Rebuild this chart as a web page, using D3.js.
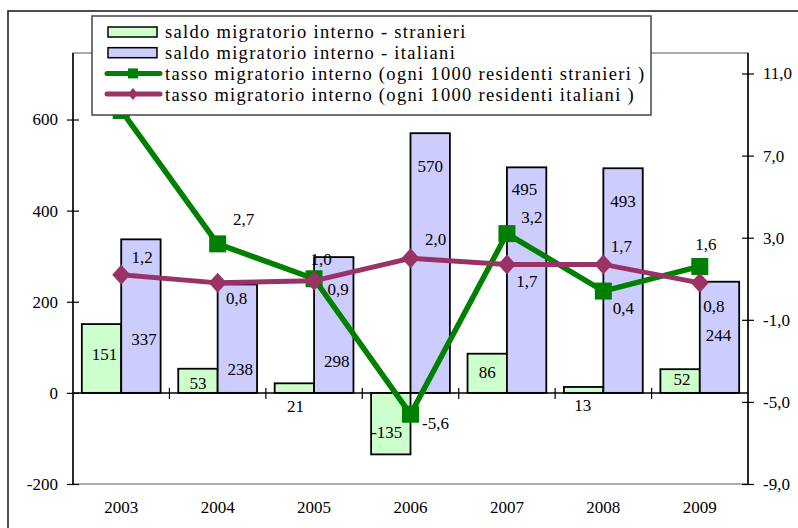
<!DOCTYPE html>
<html>
<head>
<meta charset="utf-8">
<script src="https://cdn.jsdelivr.net/npm/d3@7"></script>
<style>
  body { margin: 0; background: #fff; }
  text { font-family: "Liberation Serif", "Times New Roman", serif; fill: #000; }
</style>
</head>
<body>
<svg id="chart" width="798" height="528"></svg>
<script>
// dati
const anni = ["2003", "2004", "2005", "2006", "2007", "2008", "2009"];
const saldoStranieri = [151, 53, 21, -135, 86, 13, 52];
const saldoItaliani = [337, 238, 298, 570, 495, 493, 244];
const tassoStranieri = [9.2, 2.7, 1.0, -5.6, 3.2, 0.4, 1.6];
const tassoItaliani = [1.2, 0.8, 0.9, 2.0, 1.7, 1.7, 0.8];
const tickSinistra = [-200, 0, 200, 400, 600];
const tickDestra = [-9, -5, -1, 3, 7, 11];
const voci = [
  "saldo migratorio interno - stranieri",
  "saldo migratorio interno - italiani",
  "tasso migratorio interno (ogni 1000 residenti stranieri )",
  "tasso migratorio interno (ogni 1000 residenti italiani )"
];

// spostamenti delle etichette (posizionate a mano come nell'originale)
const offSaldoStr = [[3,30],[0,14],[1,23],[-4,-22],[0,18],[-1,18],[2,10]];
const offSaldoIta = [[3,100],[3,85],[3,104],[0,33],[-2,22],[0,33],[-1,53]];
const offTassoStr = [[25,-24],[26,-25],[7,-20],[25,9],[25,-17],[20,17],[6,-22]];
const offTassoIta = [[21,-18],[19,15],[24,8],[25,-19],[20,17],[18,-18],[14,23]];

const loc = d3.formatLocale({decimal: ",", thousands: ".", grouping: [3], currency: ["€", ""], minus: "-"});
const f1 = loc.format(".1f");
const f0 = loc.format("d");

const svg = d3.select("#chart");
const mL = 73, mR = 748, mT = 53, mB = 484;

const x = d3.scaleBand().domain(anni).range([mL, mR]);
const xs = d3.scaleBand().domain(["s", "i"]).range([0, x.bandwidth()]).paddingOuter(0.224);
const yL = d3.scaleLinear().domain([-200, 746]).range([mB, mT]);
const yR = d3.scaleLinear().domain([-9, 12]).range([mB, mT]);

// cornice esterna
svg.append("rect").attr("x", 8).attr("y", 11).attr("width", 800).attr("height", 530)
  .attr("fill", "none").attr("stroke", "#222").attr("stroke-width", 1.6);

// area del grafico
svg.append("rect").attr("x", mL).attr("y", mT).attr("width", mR - mL).attr("height", mB - mT)
  .attr("fill", "none").attr("stroke", "#808080").attr("stroke-width", 1.3);

// barre
const gruppi = svg.append("g").selectAll("g").data(anni).join("g")
  .attr("transform", d => `translate(${x(d)},0)`);

function barra(serie, key, colore) {
  gruppi.append("rect")
    .attr("x", xs(key))
    .attr("width", xs.bandwidth())
    .attr("y", (d, i) => Math.min(yL(serie[i]), yL(0)))
    .attr("height", (d, i) => Math.abs(yL(serie[i]) - yL(0)))
    .attr("fill", colore).attr("stroke", "#000").attr("stroke-width", 1.8);
}
barra(saldoStranieri, "s", "#ccffcc");
barra(saldoItaliani, "i", "#ccccff");

// linea dello zero e tacche di categoria
svg.append("line").attr("x1", mL).attr("x2", mR).attr("y1", yL(0)).attr("y2", yL(0))
  .attr("stroke", "#000").attr("stroke-width", 1.5);
svg.append("g").selectAll("line").data(anni.slice(1)).join("line")
  .attr("x1", d => x(d)).attr("x2", d => x(d))
  .attr("y1", yL(0) - 5).attr("y2", yL(0) + 6)
  .attr("stroke", "#000").attr("stroke-width", 1.2);

// assi
const axL = svg.append("g").attr("transform", `translate(${mL},0)`)
  .call(d3.axisLeft(yL).tickValues(tickSinistra).tickFormat(f0).tickSize(6).tickPadding(9));
const axR = svg.append("g").attr("transform", `translate(${mR},0)`)
  .call(d3.axisRight(yR).tickValues(tickDestra).tickFormat(f1).tickSize(6).tickPadding(9));
[axL, axR].forEach(ax => {
  ax.select(".domain").attr("stroke", "#000").attr("stroke-width", 1.5).attr("d", `M0,${mB}V${mT}`);
  ax.selectAll(".tick line").attr("x1", -6).attr("x2", 6).attr("stroke", "#000").attr("stroke-width", 1.2);
  ax.selectAll("text").attr("font-size", 17).attr("font-family", null);
});

svg.append("g").attr("transform", `translate(0,${mB})`)
  .call(d3.axisBottom(x).tickSize(0).tickPadding(17))
  .call(g => g.select(".domain").remove())
  .selectAll("text").attr("font-size", 17).attr("font-family", null);

// etichette delle barre
function etichetteBarre(serie, key, off) {
  svg.append("g").selectAll("text").data(anni).join("text")
    .attr("x", (d, i) => x(d) + xs(key) + xs.bandwidth() / 2 + off[i][0])
    .attr("y", (d, i) => yL(serie[i]) + off[i][1])
    .attr("dy", "0.35em").attr("text-anchor", "middle").attr("font-size", 17)
    .text((d, i) => f0(serie[i]));
}
etichetteBarre(saldoStranieri, "s", offSaldoStr);
etichetteBarre(saldoItaliani, "i", offSaldoIta);

// linee
const cx = d => x(d) + x.bandwidth() / 2;
function linea(serie, colore, larg) {
  svg.append("path").datum(anni)
    .attr("d", d3.line().x(cx).y((d, i) => yR(serie[i])))
    .attr("fill", "none").attr("stroke", colore).attr("stroke-width", larg).attr("stroke-linejoin", "miter");
}
linea(tassoStranieri, "#008000", 5.5);
svg.append("g").selectAll("rect").data(anni).join("rect")
  .attr("x", d => cx(d) - 8.5).attr("y", (d, i) => yR(tassoStranieri[i]) - 8.5)
  .attr("width", 17).attr("height", 17).attr("fill", "#008000");

linea(tassoItaliani, "#993366", 5);
svg.append("g").selectAll("path").data(anni).join("path")
  .attr("d", (d, i) => { const px = cx(d), py = yR(tassoItaliani[i]); return `M${px},${py - 10}L${px + 9},${py}L${px},${py + 10}L${px - 9},${py}Z`; })
  .attr("fill", "#993366");

function etichetteLinea(serie, off) {
  svg.append("g").selectAll("text").data(anni).join("text")
    .attr("x", (d, i) => cx(d) + off[i][0])
    .attr("y", (d, i) => yR(serie[i]) + off[i][1])
    .attr("dy", "0.35em").attr("text-anchor", "middle").attr("font-size", 17)
    .text((d, i) => f1(serie[i]));
}
etichetteLinea(tassoStranieri, offTassoStr);
etichetteLinea(tassoItaliani, offTassoIta);

// legenda
const leg = svg.append("g");
leg.append("rect").attr("x", 92).attr("y", 16).attr("width", 559).attr("height", 99)
  .attr("fill", "#fff").attr("stroke", "#444").attr("stroke-width", 1.5);
const righe = leg.selectAll("g").data(voci).join("g")
  .attr("transform", (d, i) => `translate(0,${32 + i * 20.7})`);
righe.filter((d, i) => i < 2).append("rect")
  .attr("x", 108).attr("y", -5).attr("width", 49).attr("height", 10)
  .attr("fill", (d, i) => i === 0 ? "#ccffcc" : "#ccccff").attr("stroke", "#000").attr("stroke-width", 1.5);
righe.filter((d, i) => i >= 2).append("line")
  .attr("x1", 107).attr("x2", 160).attr("y1", 0).attr("y2", 0)
  .attr("stroke", (d, i) => i === 0 ? "#008000" : "#993366").attr("stroke-width", 5).attr("stroke-linecap", "round");
righe.filter((d, i) => i === 2).append("rect")
  .attr("x", 128).attr("y", -5).attr("width", 10).attr("height", 10).attr("fill", "#008000");
righe.filter((d, i) => i === 3).append("path")
  .attr("d", "M133,-6L138,0L133,6L128,0Z").attr("fill", "#993366");
righe.append("text").attr("x", 165).attr("y", 0).attr("dy", "0.35em")
  .attr("font-size", 18.5).attr("letter-spacing", 1.3).text(d => d);
</script>
</body>
</html>
